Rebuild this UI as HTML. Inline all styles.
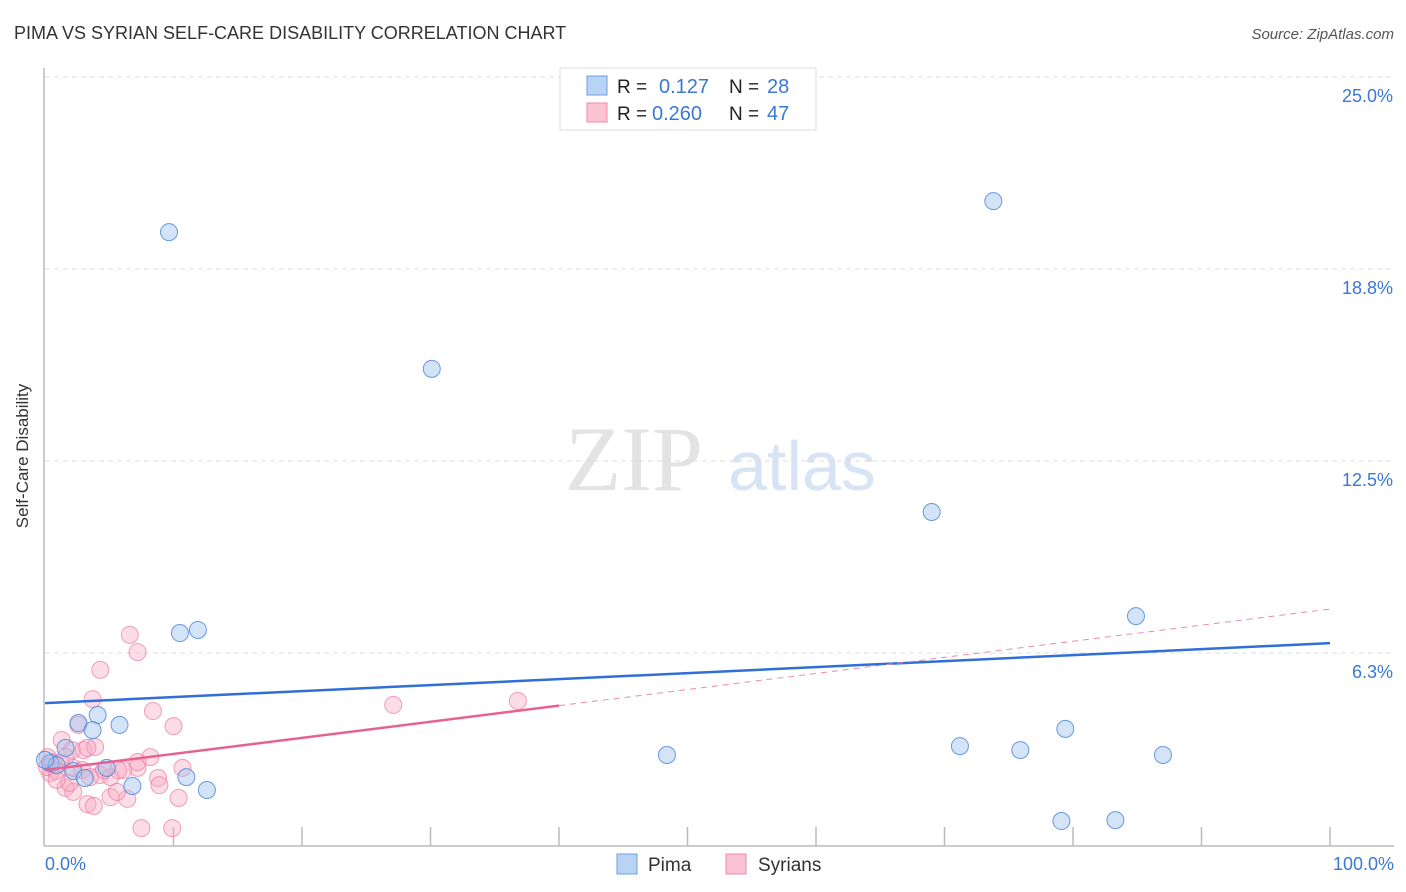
<!DOCTYPE html>
<html><head><meta charset="utf-8"><style>
body{margin:0;background:#fff;font-family:"Liberation Sans",sans-serif}
svg{display:block}
</style></head><body>
<svg width="1406" height="892" viewBox="0 0 1406 892" xmlns="http://www.w3.org/2000/svg">
<text x="14" y="39" font-size="18" fill="#333">PIMA VS SYRIAN SELF-CARE DISABILITY CORRELATION CHART</text>
<text x="1394" y="39" font-size="15" fill="#555" font-style="italic" text-anchor="end">Source: ZipAtlas.com</text>
<g>
<text x="634" y="490" font-size="92" font-family="Liberation Serif,serif" fill="#e3e3e3" text-anchor="middle">ZIP</text>
<text x="802" y="490" font-size="70" fill="#d6e4f5" text-anchor="middle">atlas</text>
</g>
<g id="grid"></g>
<line x1="44" y1="68" x2="44" y2="846" stroke="#bbb" stroke-width="1.5"/>
<line x1="44" y1="846" x2="1394" y2="846" stroke="#bbb" stroke-width="1.5"/>
<g id="xticks"></g>
<text x="28" y="456" font-size="17" fill="#333" text-anchor="middle" transform="rotate(-90 28 456)">Self-Care Disability</text>
<text x="45" y="870" font-size="18" fill="#3a78d4">0.0%</text>
<text x="1394" y="870" font-size="18" fill="#3a78d4" text-anchor="end">100.0%</text>
<g id="pts"></g>
<g id="lines"></g>
<g>
<rect x="560" y="68" width="256" height="62" fill="#fff" stroke="#ddd"/>
<rect x="587" y="76" width="20" height="19" fill="#b9d3f5" stroke="#6a9fe0"/>
<rect x="587" y="103" width="20" height="19" fill="#fac3d3" stroke="#ee8aab"/>
<text x="617" y="93" font-size="19" fill="#222">R = </text><text x="659" y="93" font-size="20" fill="#3a78d4">0.127</text>
<text x="729" y="93" font-size="19" fill="#222">N = </text><text x="767" y="93" font-size="20" fill="#3a78d4">28</text>
<text x="617" y="120" font-size="19" fill="#222">R = </text><text x="652" y="120" font-size="20" fill="#3a78d4">0.260</text>
<text x="729" y="120" font-size="19" fill="#222">N = </text><text x="767" y="120" font-size="20" fill="#3a78d4">47</text>
</g>
<g>
<rect x="617" y="854" width="20" height="20" fill="#b9d3f5" stroke="#6a9fe0"/>
<text x="648" y="871" font-size="19" fill="#333">Pima</text>
<rect x="726" y="854" width="20" height="20" fill="#fac3d3" stroke="#ee8aab"/>
<text x="758" y="871" font-size="19" fill="#333">Syrians</text>
</g>
</svg>
<script>
const yTicks=[6.25,12.5,18.75,25];
const yTickLabels=["6.3%","12.5%","18.8%","25.0%"];
const pimaX=[9.65,73.8,30.1,69.0,84.9,10.5,11.9,48.4,71.2,75.9,79.4,87.0,79.1,83.3,2.6,4.1,3.7,5.8,1.6,0.4,0.9,2.2,3.1,4.8,6.8,11.0,12.6,0];
const pimaY=[19.95,20.96,15.5,10.84,7.45,6.9,7.0,2.93,3.22,3.09,3.78,2.93,0.78,0.81,3.97,4.23,3.74,3.91,3.16,2.67,2.60,2.41,2.18,2.51,1.92,2.21,1.79,2.77];
const syrX=[6.6,7.2,4.3,3.7,8.4,10.0,27.1,36.8,1.3,2.6,2.1,3.0,3.9,8.2,10.7,7.2,6.1,4.3,5.1,8.8,8.9,10.4,6.4,5.1,5.6,3.3,3.8,1.6,2.2,1.9,0.4,0.15,0.6,1.2,2.2,7.5,9.9,2.9,3.5,7.2,0.2,0.9,1.6,4.6,3.3,5.7,0.9];
const syrY=[6.84,6.28,5.70,4.75,4.36,3.87,4.56,4.69,3.42,3.91,3.09,3.09,3.19,2.86,2.51,2.51,2.44,2.28,2.21,2.18,1.95,1.53,1.50,1.56,1.73,1.33,1.27,1.86,1.73,2.02,2.34,2.54,2.70,2.67,2.51,0.55,0.55,2.44,2.21,2.70,2.86,2.41,2.86,2.44,3.16,2.44,2.12];
const pimaTrend=[4.62,6.57];
const syrTrend=[2.44,7.68];
const syrSolidEnd=40;
const NS="http://www.w3.org/2000/svg";
const sx=v=>45+v*12.85, sy=v=>845-v*30.72;
function mk(t,a,p){const e=document.createElementNS(NS,t);for(const k in a)e.setAttribute(k,a[k]);p.appendChild(e);return e;}
const grid=document.getElementById('grid');
yTicks.forEach((v,i)=>{
 const l=mk('line',{x1:45,x2:1394,y1:sy(v),y2:sy(v),stroke:'#ddd','stroke-dasharray':'5,4'},grid);
 
 
 const t=mk('text',{x:1393,y:sy(v)+25,'font-size':18,fill:'#3a78d4','text-anchor':'end'},grid);
 t.textContent=yTickLabels[i];
 
 
});
const xt=document.getElementById('xticks');
for(let i=1;i<=10;i++){
 const l=mk('line',{x1:sx(i*10),x2:sx(i*10),y1:827,y2:846,stroke:'#bbb','stroke-width':1.5},xt);
 
 
}
const pts=document.getElementById('pts');
syrX.forEach((x,i)=>{
 const c=mk('circle',{cx:sx(x),cy:sy(syrY[i]),r:8.5,fill:'rgba(248,170,196,0.4)',stroke:'rgba(236,120,160,0.7)','stroke-width':1},pts);
 
 
});
pimaX.forEach((x,i)=>{
 const c=mk('circle',{cx:sx(x),cy:sy(pimaY[i]),r:8.5,fill:'rgba(160,196,240,0.45)',stroke:'rgba(70,130,215,0.8)','stroke-width':1},pts);
 
 
});
const lines=document.getElementById('lines');
const lb=mk('line',{x1:sx(0),y1:sy(pimaTrend[0]),x2:sx(100),y2:sy(pimaTrend[1]),stroke:'#2f6fd6','stroke-width':2.5},lines);


const ym=syrTrend[0]+(syrTrend[1]-syrTrend[0])*syrSolidEnd/100;
const lp=mk('line',{x1:sx(0),y1:sy(syrTrend[0]),x2:sx(syrSolidEnd),y2:sy(ym),stroke:'#e8628f','stroke-width':2.5},lines);


const ld=mk('line',{x1:sx(syrSolidEnd),y1:sy(ym),x2:sx(100),y2:sy(syrTrend[1]),stroke:'#ec8aab','stroke-width':1,'stroke-dasharray':'6,5'},lines);


</script>
</body></html>
